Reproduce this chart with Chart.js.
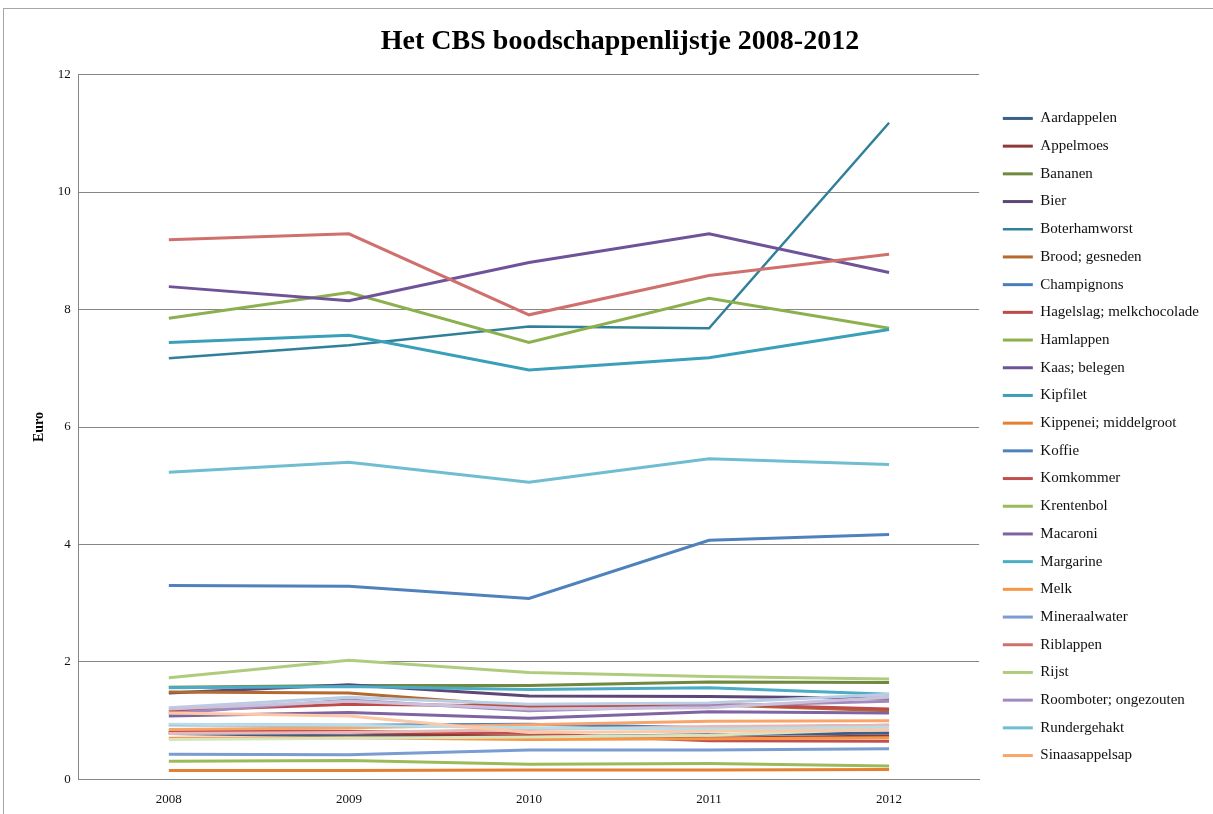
<!DOCTYPE html>
<html lang="nl">
<head>
    <meta charset="UTF-8">
    <title>Het CBS boodschappenlijstje 2008-2012</title>
    <script src="https://cdn.jsdelivr.net/npm/chart.js"></script>
    <style>
        html, body {
            margin: 0;
            background: #fff;
            overflow: hidden;
        }
        .frame {
            position: absolute;
            left: 3px;
            top: 8px;
            width: 1230px;
            height: 830px;
            border-top: 1px solid #a6a6a6;
            border-left: 1px solid #a6a6a6;
        }
        .chart-container {
            position: absolute;
            left: 0;
            top: 0;
            width: 1213px;
            height: 814px;
        }
    </style>
</head>
<body>
    <div class="frame"></div>
    <div class="chart-container">
        <canvas id="myChart"></canvas>
    </div>
    <script>
        const years = ['2008', '2009', '2010', '2011', '2012'];
        const yTicks = [0, 2, 4, 6, 8, 10, 12];

        // prijzen in euro per jaar
        const aardappelen = [0.78, 0.74, 0.72, 0.76, 0.79];
        const appelmoes = [0.80, 0.79, 0.73, 0.70, 0.74];
        const bananen = [1.57, 1.60, 1.60, 1.66, 1.65];
        const bier = [1.47, 1.61, 1.42, 1.41, 1.38];
        const boterhamworst = [7.17, 7.39, 7.71, 7.68, 11.18];
        const brood = [1.49, 1.47, 1.24, 1.27, 1.17];
        const champignons = [0.93, 0.92, 0.94, 0.88, 0.92];
        const hagelslag = [1.17, 1.28, 1.25, 1.28, 1.20];
        const hamlappen = [7.85, 8.29, 7.44, 8.19, 7.68];
        const kaas = [8.39, 8.15, 8.80, 9.29, 8.63];
        const kipfilet = [7.44, 7.56, 6.97, 7.18, 7.66];
        const kippenei = [0.15, 0.15, 0.16, 0.16, 0.17];
        const koffie = [3.30, 3.29, 3.08, 4.07, 4.17];
        const komkommer = [0.83, 0.82, 0.78, 0.66, 0.65];
        const krentenbol = [0.31, 0.32, 0.26, 0.27, 0.23];
        const macaroni = [1.08, 1.14, 1.04, 1.15, 1.13];
        const margarine = [1.56, 1.58, 1.53, 1.56, 1.45];
        const melk = [0.70, 0.71, 0.68, 0.69, 0.71];
        const mineraalwater = [0.43, 0.42, 0.50, 0.50, 0.52];
        const riblappen = [9.19, 9.29, 7.91, 8.58, 8.94];
        const rijst = [1.73, 2.03, 1.82, 1.75, 1.71];
        const roomboter = [1.12, 1.35, 1.17, 1.25, 1.33];
        const rundergehakt = [5.23, 5.40, 5.06, 5.46, 5.36];
        const sinaasappelsap = [0.85, 0.88, 0.93, 0.99, 1.00];
        // series die niet meer in de legenda passen
        const suiker = [1.22, 1.40, 1.28, 1.30, 1.45];
        const thee = [0.78, 0.80, 0.85, 0.90, 0.92];
        const tomaten = [0.68, 0.70, 0.72, 0.75, 0.86];
        const uien = [1.20, 1.33, 1.20, 1.22, 1.40];
        const vla = [0.94, 0.92, 0.88, 0.86, 0.89];
        const yoghurt = [1.13, 1.08, 0.80, 0.82, 0.84];

        const names = ['Aardappelen', 'Appelmoes', 'Bananen', 'Bier', 'Boterhamworst', 'Brood; gesneden',
            'Champignons', 'Hagelslag; melkchocolade', 'Hamlappen', 'Kaas; belegen', 'Kipfilet', 'Kippenei; middelgroot',
            'Koffie', 'Komkommer', 'Krentenbol', 'Macaroni', 'Margarine', 'Melk',
            'Mineraalwater', 'Riblappen', 'Rijst', 'Roomboter; ongezouten', 'Rundergehakt', 'Sinaasappelsap',
            'Suiker', 'Thee', 'Tomaten', 'Uien', 'Vla', 'Yoghurt'];
        const values = [aardappelen, appelmoes, bananen, bier, boterhamworst, brood,
            champignons, hagelslag, hamlappen, kaas, kipfilet, kippenei,
            koffie, komkommer, krentenbol, macaroni, margarine, melk,
            mineraalwater, riblappen, rijst, roomboter, rundergehakt, sinaasappelsap,
            suiker, thee, tomaten, uien, vla, yoghurt];
        const colors = ['#3a5f8b', '#8e3a38', '#71893f', '#5c4776', '#31809a', '#b5692c',
            '#4a7ebb', '#be4b48', '#8db04f', '#6f5398', '#3aa0ba', '#e57f32',
            '#4f81bd', '#c0504d', '#9bbb59', '#8064a2', '#4bacc6', '#f79646',
            '#7b9cd0', '#d0706d', '#afcb7e', '#a08abe', '#70bdd2', '#f9a56a',
            '#b9cde5', '#e6b9b8', '#d7e4bd', '#ccc1da', '#b7dee8', '#fcc8a5'];
        const legendCount = 24;

        const serif = "'Liberation Serif', 'DejaVu Serif', serif";

        const datasets = names.map((name, i) => ({
            label: name,
            data: values[i],
            borderColor: colors[i],
            backgroundColor: colors[i],
            borderWidth: name === 'Boterhamworst' ? 2.5 : 3,
            pointRadius: 0,
            tension: 0,
            order: names.length - i
        }));

        const ctx = document.getElementById('myChart').getContext('2d');
        new Chart(ctx, {
            type: 'line',
            data: {
                labels: years,
                datasets: datasets
            },
            options: {
                responsive: true,
                maintainAspectRatio: false,
                animation: false,
                layout: {
                    padding: { left: 31, top: 19, right: 4, bottom: -5 }
                },
                plugins: {
                    title: {
                        display: true,
                        text: 'Het CBS boodschappenlijstje 2008-2012',
                        color: '#000',
                        font: { family: serif, size: 28, weight: 'bold' },
                        padding: { top: 6, bottom: 16 }
                    },
                    legend: {
                        position: 'right',
                        maxWidth: 260,
                        title: {
                            display: true,
                            text: '',
                            font: { size: 10 },
                            padding: { top: 0, bottom: 24 }
                        },
                        labels: {
                            usePointStyle: true,
                            pointStyle: 'line',
                            pointStyleWidth: 30,
                            color: '#111',
                            font: { family: serif, size: 15 },
                            padding: 12.7,
                            filter: item => item.datasetIndex < legendCount,
                            sort: (a, b) => a.datasetIndex - b.datasetIndex
                        }
                    },
                    tooltip: { enabled: false }
                },
                scales: {
                    x: {
                        offset: true,
                        grid: { display: false, drawTicks: false },
                        border: { color: '#868686' },
                        ticks: {
                            color: '#111',
                            font: { family: serif, size: 13 },
                            padding: 12
                        }
                    },
                    y: {
                        min: 0,
                        max: 12,
                        afterBuildTicks: axis => {
                            axis.ticks = yTicks.map(v => ({ value: v }));
                        },
                        grid: { color: '#868686', drawTicks: false },
                        border: { color: '#868686' },
                        ticks: {
                            color: '#111',
                            font: { family: serif, size: 13 },
                            padding: 8
                        },
                        title: {
                            display: true,
                            text: 'Euro',
                            color: '#000',
                            font: { family: serif, size: 14, weight: 'bold' },
                            padding: { top: 0, bottom: 2 }
                        }
                    },
                    // lege ruimte tussen plot en legenda
                    gap: {
                        position: 'right',
                        display: true,
                        grid: { display: false },
                        border: { display: false },
                        ticks: { display: false },
                        afterFit: axis => { axis.width = 11; }
                    }
                }
            }
        });
    </script>
</body>
</html>
